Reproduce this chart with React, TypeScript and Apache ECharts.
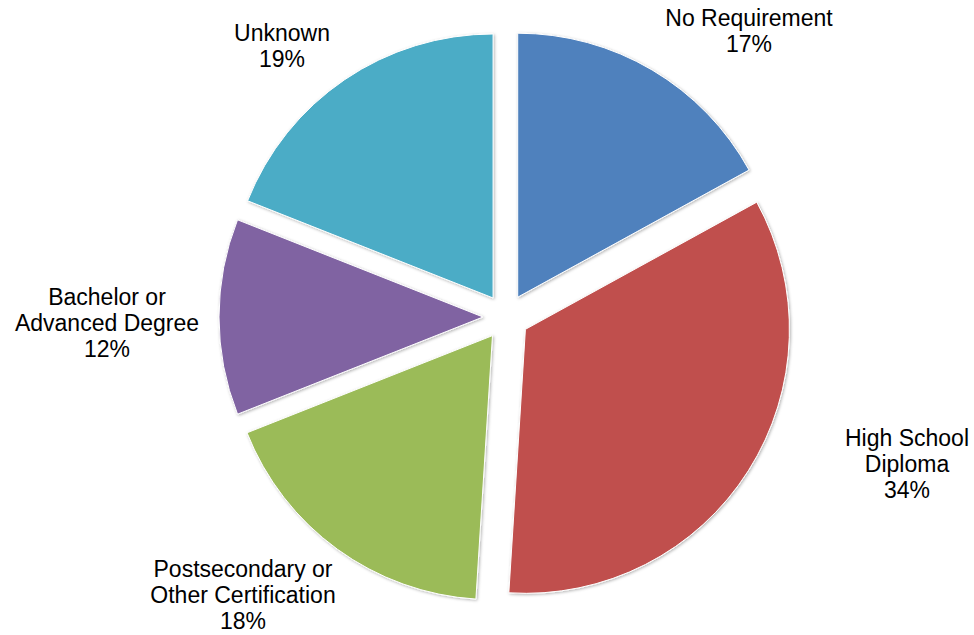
import React, { useEffect, useRef } from "react";
import * as echarts from "echarts";

const categories = [
  "No Requirement",
  "High School Diploma",
  "Postsecondary or Other Certification",
  "Bachelor or Advanced Degree",
  "Unknown",
];
const labelTexts = [
  "No Requirement",
  "High School\nDiploma",
  "Postsecondary or\nOther Certification",
  "Bachelor or\nAdvanced Degree",
  "Unknown",
];
const values = [17, 34, 18, 12, 19];
const colors = ["#4F81BD", "#C0504D", "#9BBB59", "#8064A2", "#4BACC6"];

// label block centres (layout only)
const labelPos = [
  [749, 31],
  [907, 464],
  [243, 595],
  [107, 323],
  [282, 46],
];

const OFFSET = 23;

export default function App() {
  const ref = useRef<HTMLDivElement>(null);
  useEffect(() => {
    if (!ref.current) return;
    const chart = echarts.init(ref.current, null, { renderer: "svg" });
    const total = values.reduce((a, b) => a + b, 0);
    // selected-offset vector for each slice (start at 12 o'clock, clockwise)
    const offs: number[][] = [];
    let acc = 0;
    values.forEach((v) => {
      const mid = ((acc + v / 2) / total) * Math.PI * 2;
      offs.push([Math.sin(mid) * OFFSET, -Math.cos(mid) * OFFSET]);
      acc += v;
    });
    const itemStyleBase = {
      borderColor: "#ffffff",
      borderWidth: 1,
      shadowBlur: 3,
      shadowOffsetX: 1,
      shadowOffsetY: 1,
      shadowColor: "rgba(0,0,0,0.3)",
    };
    chart.setOption({
      animation: false,
      backgroundColor: "#ffffff",
      series: [
        {
          type: "pie",
          center: [506, 317],
          radius: 264,
          startAngle: 90,
          clockwise: true,
          selectedMode: "multiple",
          selectedOffset: OFFSET,
          avoidLabelOverlap: false,
          emphasis: { disabled: true },
          labelLine: { show: false },
          label: {
            show: true,
            position: "outside",
            color: "#000000",
            fontFamily: "Liberation Sans, Arial, sans-serif",
            fontSize: 23,
            lineHeight: 26,
            formatter: (p: any) => `${labelTexts[p.dataIndex]}\n${p.value}%`,
          },
          labelLayout: (params: any) => {
            const i = params.dataIndex;
            const pos = labelPos[i];
            const r = params.labelRect;
            let ax = r.x + r.width / 2;
            if (params.align === "left") ax = r.x;
            else if (params.align === "right") ax = r.x + r.width;
            const ay = r.y + r.height / 2;
            return {
              align: "center",
              verticalAlign: "middle",
              dx: pos[0] - ax - offs[i][0],
              dy: pos[1] - ay - offs[i][1],
            };
          },
          select: {
            itemStyle: itemStyleBase,
            label: { color: "#000000" },
          },
          itemStyle: itemStyleBase,
          data: categories.map((name, i) => ({
            name,
            value: values[i],
            selected: true,
            itemStyle: { color: colors[i] },
            select: { itemStyle: { color: colors[i] } },
          })),
        },
      ],
    });
    return () => chart.dispose();
  }, []);
  return (
    <div
      ref={ref}
      style={{ position: "fixed", left: 0, top: 0, width: 974, height: 635 }}
    />
  );
}
